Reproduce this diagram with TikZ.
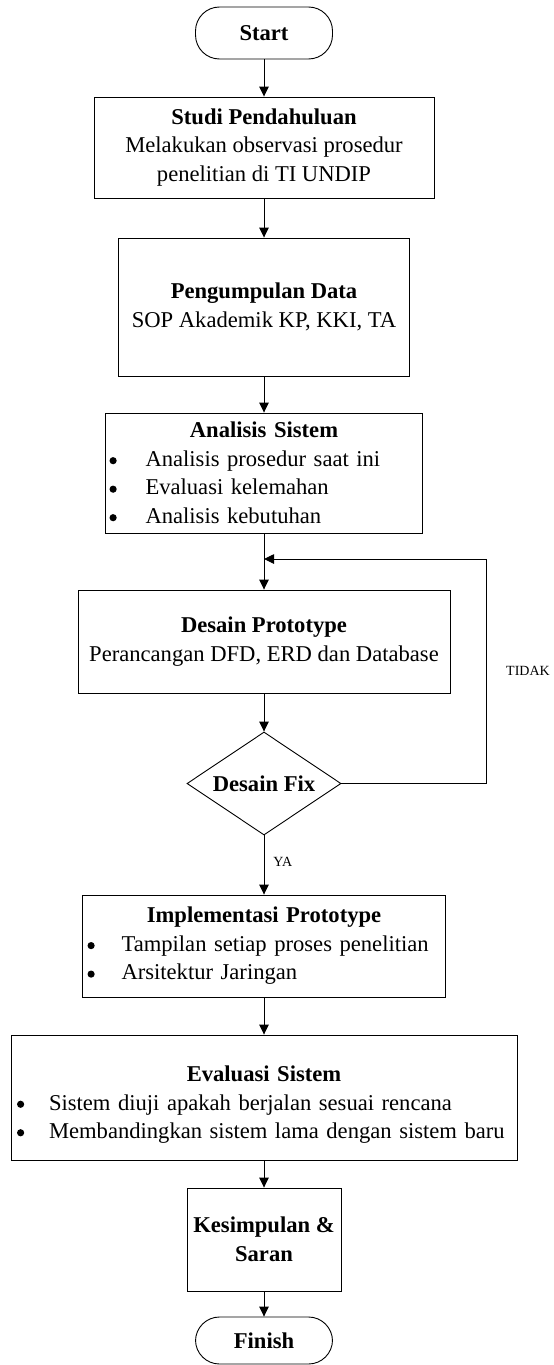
\documentclass[tikz,border=0pt]{standalone}
\usepackage{fontspec}
\setmainfont{Liberation Serif}
\usetikzlibrary{shapes.geometric,arrows.meta}
\newcommand\blt[1]{\makebox[#1][l]{\tikz[baseline=0pt]\fill (3.8pt,5.8pt) circle (3.6pt);}}
\begin{document}
\begin{tikzpicture}[x=1pt,y=-1pt,
  every node/.style={font=\fontsize{22.6}{28.5}\selectfont},
  proc/.style={draw, line width=0.9pt, rectangle, align=center, inner sep=0pt},
  blist/.style={draw, line width=0.9pt, rectangle, align=left, inner ysep=0pt},
  term/.style={draw, line width=0.9pt, rectangle, rounded corners=24pt, inner sep=0pt,
    font=\fontsize{22.6}{28.5}\selectfont\bfseries},
  dec/.style={draw, line width=0.9pt, diamond, shape aspect=1.5, inner sep=0pt,
    font=\fontsize{22.6}{28.5}\selectfont\bfseries},
  arr/.style={line width=0.9pt, -{Triangle[width=9.5pt,length=10pt]}},
  lbl/.style={font=\fontsize{14}{16}\selectfont, inner sep=0pt}
]
\useasboundingbox (0,0) rectangle (554,1365);

\node[term, minimum width=137pt, minimum height=52pt] (start) at (264,33) {Start};

\node[proc, minimum width=340pt, minimum height=101pt] (studi) at (264,147.5)
  {\textbf{Studi Pendahuluan}\\Melakukan observasi prosedur\\penelitian di TI UNDIP};

\node[proc, minimum width=291pt, minimum height=138pt] (data) at (264,307)
  {\textbf{Pengumpulan Data}\\SOP Akademik KP, KKI, TA};

\node[blist, inner xsep=4pt, text width=309pt, minimum height=120pt] (anal) at (264,473)
  {\makebox[\linewidth]{\textbf{Analisis Sistem}}\\
   \blt{36pt}Analisis prosedur saat ini\\
   \blt{36pt}Evaluasi kelemahan\\
   \blt{36pt}Analisis kebutuhan};

\node[proc, minimum width=372pt, minimum height=103pt] (desain) at (264,641.5)
  {\textbf{Desain Prototype}\\Perancangan DFD, ERD dan Database};

\node[dec, minimum width=154pt, minimum height=103pt] (fix) at (264,783.5) {Desain Fix};

\node[blist, inner xsep=5pt, text width=353pt, minimum height=102pt] (impl) at (264,946)
  {\makebox[\linewidth]{\textbf{Implementasi Prototype}}\\
   \blt{34pt}Tampilan setiap proses penelitian\\
   \blt{34pt}Arsitektur Jaringan};

\node[blist, inner xsep=6pt, text width=494pt, minimum height=125pt] (eval) at (264,1097.5)
  {\makebox[\linewidth]{\rule{0pt}{30pt}\textbf{Evaluasi Sistem}}\\
   \blt{32pt}Sistem diuji apakah berjalan sesuai rencana\\
   \blt{32pt}Membandingkan sistem lama dengan sistem baru};

\node[proc, minimum width=154pt, minimum height=103pt] (kes) at (264,1239.5)
  {\textbf{Kesimpulan \&}\\\textbf{Saran}};

\node[term, minimum width=137pt, minimum height=47pt] (finish) at (264,1340.5) {Finish};

\coordinate (fb) at (486,559);
\coordinate (join) at (264,559);

\draw[arr] (start) -- (studi);
\draw[arr] (studi) -- (data);
\draw[arr] (data) -- (anal);
\draw[arr] (anal) -- (desain);
\draw[arr] (desain) -- (fix);
\draw[arr] (fix) -- node[lbl, pos=0.45, right=9pt] (ya) {YA} (impl);
\draw[arr] (impl) -- (eval);
\draw[arr] (eval) -- (kes);
\draw[arr] (kes) -- (finish);
\draw[arr] (fix.east) -| (fb) -- (join);

\node[lbl] (tidak) at (528,671) {TIDAK};
\end{tikzpicture}
\end{document}
